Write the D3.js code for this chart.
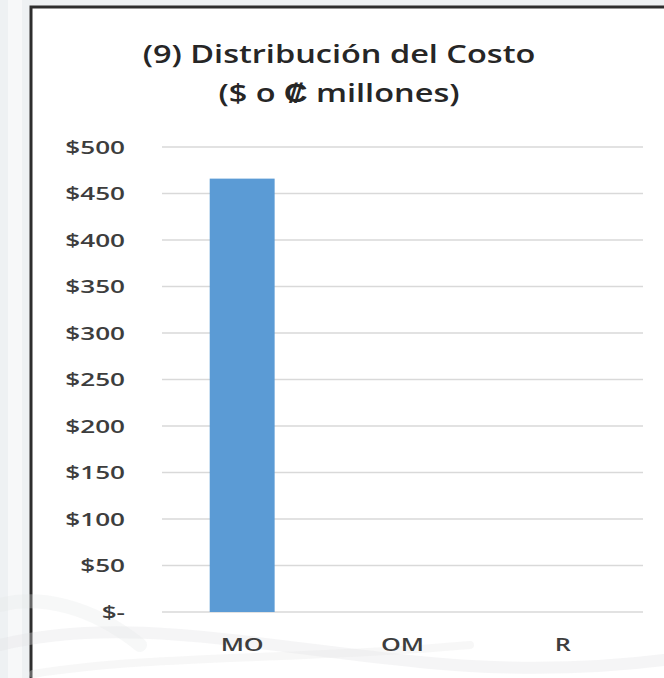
<!DOCTYPE html>
<html>
<head>
<meta charset="utf-8">
<script src="https://cdn.jsdelivr.net/npm/d3@7"></script>
<style>
  body { margin: 0; background: #f1f3f4; }
  svg { display: block; }
  text { font-family: "Open Sans", "Liberation Sans", sans-serif; }
</style>
</head>
<body>
<svg id="chart"></svg>
<script>
// chart data
const categories = ["MO", "OM", "R"];
const costValues = [466, 0, 0];
const yTicks = [0, 50, 100, 150, 200, 250, 300, 350, 400, 450, 500];
const titleLines = ["(9) Distribución del Costo", "($ o ₡ millones)"];

const width = 664, height = 678;
const svg = d3.select("#chart").attr("width", width).attr("height", height);

// faded backdrop outside and under the chart frame
svg.append("rect").attr("width", width).attr("height", height).attr("fill", "#eef1f3");
svg.append("rect").attr("x", 8).attr("y", 0).attr("width", 14).attr("height", height)
    .attr("fill", "#f7f8f9");

// chart frame (runs off right and bottom edges)
svg.append("rect")
    .attr("x", 31).attr("y", 7)
    .attr("width", 700).attr("height", 700)
    .attr("fill", "#ffffff")
    .attr("stroke", "#2e2e2e")
    .attr("stroke-width", 3);

// faint swooshes near the bottom
const swoosh = svg.append("g").attr("fill", "none").attr("stroke-linecap", "round");
swoosh.append("path").attr("d", "M0,645 C120,615 250,645 420,662 C520,672 600,668 664,660")
    .attr("stroke", "#e2e3e4").attr("stroke-width", 12).attr("opacity", 0.35);
swoosh.append("path").attr("d", "M33,674 C150,655 300,660 470,645")
    .attr("stroke", "#e4e4e4").attr("stroke-width", 8).attr("opacity", 0.3);
swoosh.append("path").attr("d", "M0,605 C40,595 90,605 140,645")
    .attr("stroke", "#e6e7e8").attr("stroke-width", 14).attr("opacity", 0.3);

// horizontal stretch for text, the source image is widened
function stretch(sel, k) {
    sel.each(function () {
        const len = this.getComputedTextLength();
        d3.select(this).attr("textLength", len * k).attr("lengthAdjust", "spacingAndGlyphs");
    });
}

// title
svg.append("g").selectAll("text")
    .data(titleLines)
    .join("text")
    .attr("x", 339)
    .attr("y", (d, i) => 63 + i * 39)
    .attr("text-anchor", "middle")
    .attr("font-size", 25)
    .attr("font-weight", 600)
    .attr("fill", "#262626")
    .text(d => d)
    .call(stretch, 1.3);

// scales
const x = d3.scaleBand()
    .domain(categories)
    .range([162, 643])
    .paddingInner(0.595)
    .paddingOuter(0.2975);

const y = d3.scaleLinear()
    .domain([0, 500])
    .range([612, 147]);

// gridlines
svg.append("g")
    .selectAll("line")
    .data(yTicks)
    .join("line")
    .attr("x1", 162).attr("x2", 643)
    .attr("y1", d => y(d)).attr("y2", d => y(d))
    .attr("stroke", "#d9d9d9")
    .attr("stroke-width", 1.5);

// y axis labels
const yAxis = svg.append("g")
    .attr("transform", "translate(125,0)")
    .call(d3.axisLeft(y)
        .tickValues(yTicks)
        .tickSize(0)
        .tickPadding(0)
        .tickFormat(d => d === 0 ? "$-" : "$" + d));
yAxis.select(".domain").remove();
yAxis.selectAll("text")
    .attr("font-size", 18)
    .attr("font-weight", 600)
    .attr("fill", "#3d3d3d")
    .attr("dy", "0.36em")
    .call(stretch, 1.45);

// bars
svg.append("g")
    .selectAll("rect")
    .data(categories.map((c, i) => ({ cat: c, value: costValues[i] })))
    .join("rect")
    .attr("x", d => x(d.cat))
    .attr("y", d => y(d.value))
    .attr("width", x.bandwidth())
    .attr("height", d => y(0) - y(d.value))
    .attr("fill", "#5b9bd5");

// x axis labels
const xAxis = svg.append("g")
    .attr("transform", "translate(0,634)")
    .call(d3.axisBottom(x).tickSize(0).tickPadding(0));
xAxis.select(".domain").remove();
xAxis.selectAll("text")
    .attr("font-size", 18)
    .attr("font-weight", 600)
    .attr("fill", "#3d3d3d")
    .attr("dy", "0.95em")
    .call(stretch, 1.4);
</script>
</body>
</html>
